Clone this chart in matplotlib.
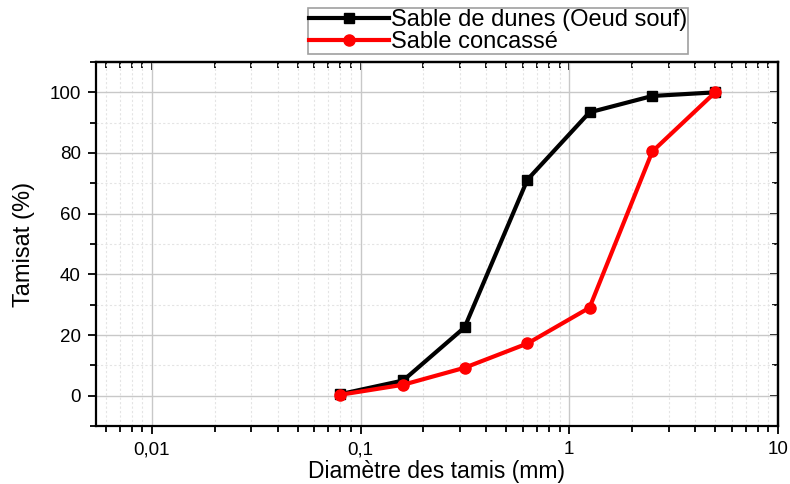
import matplotlib
matplotlib.use("Agg")
import matplotlib.pyplot as plt
from matplotlib.ticker import LogLocator, FixedLocator, MultipleLocator, NullFormatter

plt.rcParams['font.family'] = ['Liberation Sans', 'DejaVu Sans']

diam = [0.08, 0.16, 0.315, 0.63, 1.25, 2.5, 5.0]
dunes = [0.5, 5.0, 22.5, 71.2, 93.4, 98.8, 100.0]
concasse = [0.3, 3.6, 9.2, 17.2, 29.0, 80.5, 100.0]
labels = ["Sable de dunes (Oeud souf)", "Sable concassé"]
xticks = [0.01, 0.1, 1, 10]
xticklabels = ["0,01", "0,1", "1", "10"]
yticks = [0, 20, 40, 60, 80, 100]

fig = plt.figure(figsize=(7.9, 4.84), dpi=100)
ax = fig.add_axes([96/790, 1 - 426/484, (778-96)/790, (426-62)/484])

ax.plot(diam, dunes, color='black', lw=3, marker='s', ms=7, label=labels[0], zorder=3)
ax.plot(diam, concasse, color='red', lw=3, marker='o', ms=8, label=labels[1], zorder=4)

ax.set_xscale('log')
ax.set_xlim(0.0054, 10)
ax.set_ylim(-10, 110)

ax.xaxis.set_major_locator(FixedLocator(xticks))
ax.set_xticklabels(xticklabels)
ax.xaxis.set_minor_locator(LogLocator(base=10, subs=range(2, 10), numticks=20))
ax.xaxis.set_minor_formatter(NullFormatter())
ax.set_yticks(yticks)
ax.yaxis.set_minor_locator(MultipleLocator(10))

ax.grid(which='major', color='#c8c8c8', lw=1, ls='-', zorder=0)
ax.grid(which='minor', color='#e4e4e4', lw=0.8, ls=(0, (2, 2)), zorder=0)
ax.set_axisbelow(True)

for s in ax.spines.values():
    s.set_linewidth(1.6)
    s.set_color('black')

ax.tick_params(axis='both', which='major', direction='out', length=6, width=1.3, labelsize=13.5, top=False, right=False)
ax.tick_params(axis='both', which='minor', direction='out', length=4, width=1.3, top=False, right=False)
ax.tick_params(axis='x', pad=5)
ax.tick_params(axis='y', pad=5)

# inward ticks on top and right
axt = ax.secondary_xaxis('top')
axt.xaxis.set_major_locator(FixedLocator(xticks))
axt.xaxis.set_minor_locator(LogLocator(base=10, subs=range(2, 10), numticks=20))
axt.tick_params(which='major', direction='in', length=6, width=1.3, labeltop=False)
axt.tick_params(which='minor', direction='in', length=4, width=1.3)
axt.xaxis.set_major_formatter(NullFormatter())
axt.xaxis.set_minor_formatter(NullFormatter())
axt.spines['top'].set_linewidth(1.6)

axr = ax.secondary_yaxis('right')
axr.set_yticks(yticks)
axr.yaxis.set_minor_locator(MultipleLocator(10))
axr.tick_params(which='major', direction='in', length=6, width=1.3, labelright=False)
axr.tick_params(which='minor', direction='in', length=4, width=1.3)
axr.spines['right'].set_linewidth(1.6)

ax.set_xlabel("Diamètre des tamis (mm)", fontsize=16.5, labelpad=1)
ax.set_ylabel("Tamisat (%)", fontsize=17, labelpad=10)

leg = ax.legend(loc='upper left', bbox_to_anchor=(308/790, 1 - 8/484), bbox_transform=fig.transFigure,
                fontsize=17, frameon=True, fancybox=False, edgecolor='#888888',
                handlelength=3.4, handletextpad=0.05, borderpad=0.05, labelspacing=0.0,
                borderaxespad=0)
leg.get_frame().set_linewidth(1.2)

fig.savefig("out.png", dpi=100)
